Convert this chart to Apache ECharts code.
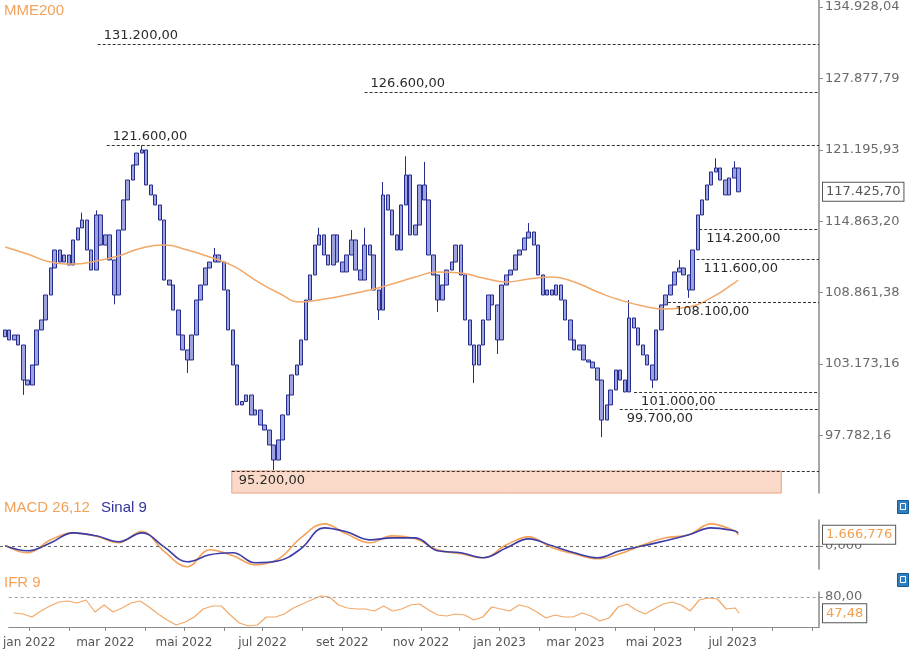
<!DOCTYPE html>
<html><head><meta charset="utf-8">
<script src="https://cdn.jsdelivr.net/npm/echarts@6/dist/echarts.min.js"></script>
<style>html,body{margin:0;padding:0;background:#fff}#c{width:911px;height:658px}</style>
</head><body><div id="c"></div>
<script>
// ---- data ----
// closes: one bar every half week (Mon / Thu) starting Mon 2021-12-20
const firstOpen = 105300;
const closes = [
105840, 105050, 105440, 104650, 101930, 101550, 103090, 105840, 106640, 108660,
110890, 112400, 111390, 111980, 111140, 113250, 114280, 114960, 112400, 110720,
115400, 112820, 113680, 111560, 108660, 114100, 116710, 118470, 119820, 120900,
121180, 118030, 117150, 116270, 114960, 109890, 109480, 107440, 105440, 104260,
103480, 105440, 108250, 109480, 110890, 111390, 111980, 111390, 109070, 105840,
103090, 100040, 100300, 100790, 99290, 99660, 98540, 98170, 97070, 95980,
97440, 99290, 100790, 102320, 103090, 105050, 108250, 110310, 112820, 113680,
111980, 111140, 113680, 111390, 110560, 111980, 113250, 110720, 109890, 112820,
111980, 109070, 107440, 117150, 115830, 113680, 112400, 116270, 118920, 113680,
114530, 118030, 116710, 111980, 110310, 108250, 109480, 110720, 111390, 112820,
110310, 106640, 104650, 103090, 104650, 106640, 108660, 107850, 105050, 109480,
110310, 110720, 111980, 112400, 113420, 113930, 112820, 110310, 108660, 109070,
108660, 109480, 108250, 106640, 105050, 104260, 104650, 103480, 103320, 102860,
101930, 98910, 100040, 101170, 102700, 101930, 101020, 106800, 106000, 104650,
103870, 103090, 101930, 105840, 107850, 108660, 109480, 110560, 110890, 110310,
109070, 112400, 115400, 116710, 118030, 119190, 119550, 118470, 117150, 118650,
119550, 117425.70
];
// visible wick extremes [bar index, price]
const wickHighs = [[17,115600],[20,115800],[30,121600],[46,112570],[69,114300],[76,114100],[79,114300],[83,118300],[88,120600],[92,120100],[115,114700],[137,108250],[148,111560],[156,120420],[160,120150]];
const wickLows = [[4,100800],[24,107900],[40,102470],[59,95260],[82,106640],[95,107280],[103,101700],[108,103950],[131,97650],[142,101320],[150,108430]];
// MME200: every 5th bar + last bar
const ma200 = [112650,112060,111390,111220,111480,111900,112570,112820,112400,111810,111060,109890,108820,108090,108330,108660,109070,109560,110140,110560,110470,110060,109730,109980,110140,109730,108910,108250,107770,107520,107680,108420,109650,109890];
// MACD 26,12 and Sinal 9: every 5th bar + last bar
const macd = [30,-1057,906,1963,1435,453,2140,-830,-3171,-604,-1510,-2870,-1963,1208,3322,1812,453,1510,1057,-604,-1208,-1812,151,1359,-302,-1208,-1963,-1208,151,1208,1661,3322,2265,1666.776];
const signal = [0,-755,453,1963,1510,604,1963,-151,-2416,-1359,-1057,-2567,-2265,-453,2718,2114,906,1208,1208,-755,-1057,-1812,-302,1057,0,-1057,-1812,-755,0,755,1661,2718,2265,1963];
// IFR 9: every 2nd bar + last bar
const rsi = [48,46,40,52,62,70,72,68,74,50,64,50,58,68,72,60,46,34,24,30,40,56,62,62,44,28,22,24,40,40,46,58,66,74,82,80,64,58,56,56,52,62,52,56,64,66,54,44,42,46,44,34,40,60,56,52,64,60,50,38,44,40,40,48,42,32,38,60,66,54,46,56,66,70,64,52,74,78,76,56,58,47.48];
const priceTicks = [97782.16, 103173.16, 108861.38, 114863.20, 121195.93, 127877.79, 134928.04];
const levelValues = [131200, 126600, 121600, 114200, 111600, 108100, 101000, 99700, 95200];
const levelStarts = ['2022-03-01','2022-09-22','2022-03-08','2023-06-06','2023-06-04','2023-05-13','2023-04-17','2023-04-06','2022-06-12'];
const levelSides = ['above','above','above','below','below','below','below','below','below'];
const zoneStart = '2022-06-12', zoneEnd = '2023-08-08';
const labelMonths = ['2022-01','2022-03','2022-05','2022-07','2022-09','2022-11','2023-01','2023-03','2023-05','2023-07'];
const monthNames = ['jan','fev','mar','abr','mai','jun','jul','ago','set','out','nov','dez'];

// ---- helpers ----
function t(s){ const p = s.split('-').map(Number); return new Date(p[0], p[1]-1, p[2]||1).getTime(); }
function barDate(i){ return new Date(2021, 11, 20 + 7*Math.floor(i/2) + 3*(i%2)).getTime(); }
function fmt(v, dec){
  const s = Math.abs(v).toFixed(dec); const parts = s.split('.');
  const ip = parts[0].replace(/\B(?=(\d{3})+(?!\d))/g, '.');
  return (v<0?'-':'') + ip + (dec ? ',' + parts[1] : '');
}
const xMin = t('2021-12-16'), xMax = t('2023-09-06');
const yMin = 93630, yMax = 135644;
const FONT = 'DejaVu Sans';
const labelSet = {};
labelMonths.forEach(s => labelSet[t(s)] = true);

const hiMap = {}, loMap = {};
wickHighs.forEach(w => hiMap[w[0]] = w[1]);
wickLows.forEach(w => loMap[w[0]] = w[1]);
const candles = closes.map((c, i) => {
  const o = i === 0 ? firstOpen : closes[i-1];
  let lo = Math.min(o, c), hi = Math.max(o, c);
  if (hiMap[i] != null) hi = Math.max(hi, hiMap[i]);
  if (loMap[i] != null) lo = Math.min(lo, loMap[i]);
  return [barDate(i), o, c, lo, hi];
});
const last = closes.length - 1;
const every = (arr, step) => arr.map((v, k) => [barDate(k < arr.length-1 ? k*step : last), v]);

const levelLines = levelValues.map((v, i) => [
  { coord: [t(levelStarts[i]), v],
    label: { show: true, formatter: fmt(v, 2),
      position: levelSides[i] === 'above' ? 'insideStartTop' : 'insideStartBottom',
      distance: levelSides[i] === 'above' ? [6, 2] : [7, 3],
      color: '#2a2a2a', fontSize: 13, fontFamily: FONT } },
  { coord: [xMax, v] }
]);

function valueBox(v, text, color){
  return { yAxis: v, lineStyle: { color: 'rgba(0,0,0,0)', width: 1, opacity: 1 },
    label: { show: true, position: 'end', distance: 4, formatter: text, color: color, opacity: 1,
      fontSize: 13, fontFamily: FONT, backgroundColor: '#fff', borderColor: '#555', borderWidth: 1,
      padding: [3, 3, 2, 3] } };
}

const axisGray = '#8a8a8a';
const chart = echarts.init(document.getElementById('c'));
chart.setOption({
  animation: false,
  backgroundColor: '#fff',
  textStyle: { fontFamily: FONT },
  grid: [
    { left: 0, right: 92, top: 0, height: 493 },
    { left: 0, right: 92, top: 520, height: 49 },
    { left: 0, right: 92, top: 592, height: 35 }
  ],
  xAxis: [0, 1, 2].map(g => ({
    type: 'time', gridIndex: g, min: xMin, max: xMax, show: g === 2, splitNumber: 22,
    splitLine: { show: false },
    axisLine: { show: true, lineStyle: { color: axisGray } },
    axisTick: { show: true, length: 4, lineStyle: { color: axisGray } },
    axisLabel: { show: true, margin: 10, color: '#555', fontSize: 12, hideOverlap: false,
      formatter: v => { if (!labelSet[v]) return ''; const d = new Date(v);
        return monthNames[d.getMonth()] + ' ' + d.getFullYear(); } }
  })),
  yAxis: [
    { type: 'log', gridIndex: 0, position: 'right', min: yMin, max: yMax,
      splitLine: { show: false },
      axisLine: { show: true, lineStyle: { color: axisGray, width: 1.5 } },
      axisTick: { show: true, customValues: priceTicks, length: 4, lineStyle: { color: axisGray } },
      axisLabel: { customValues: priceTicks, formatter: v => fmt(v, 2), color: '#6a6a6a', fontSize: 13, margin: 6, padding: [6, 0, 0, 0] } },
    { type: 'value', gridIndex: 1, position: 'right', min: -3500, max: 3900,
      splitLine: { show: false },
      axisLine: { show: true, lineStyle: { color: axisGray, width: 1.5 } },
      axisTick: { show: true, customValues: [0], length: 4, lineStyle: { color: axisGray } },
      axisLabel: { customValues: [0], formatter: v => fmt(v, 3), color: '#6a6a6a', fontSize: 13, margin: 6, padding: [4, 0, 0, 0] } },
    { type: 'value', gridIndex: 2, position: 'right', min: 20, max: 90,
      splitLine: { show: false },
      axisLine: { show: true, lineStyle: { color: axisGray, width: 1.5 } },
      axisTick: { show: true, customValues: [80], length: 4, lineStyle: { color: axisGray } },
      axisLabel: { customValues: [80], formatter: v => fmt(v, 2), color: '#6a6a6a', fontSize: 13, margin: 6 } }
  ],
  series: [
    { type: 'candlestick', name: 'preço', xAxisIndex: 0, yAxisIndex: 0, data: candles, barWidth: 4, z: 3,
      itemStyle: { color: '#9ca1e0', color0: '#9ca1e0', borderColor: '#262c8c', borderColor0: '#262c8c', borderWidth: 1 },
      markArea: { silent: true,
        data: [[ { coord: [t(zoneStart), levelValues[8]], itemStyle: { color: '#fad9c8', borderColor: '#e9a07f', borderWidth: 1 } },
                 { coord: [t(zoneEnd), yMin] } ]] },
      markLine: { silent: true, symbol: ['none', 'none'], animation: false,
        lineStyle: { color: '#333', type: [3, 2], width: 1 },
        data: levelLines.concat([ valueBox(closes[last], fmt(closes[last], 2), '#555') ]) } },
    { type: 'line', name: 'MME200', xAxisIndex: 0, yAxisIndex: 0, data: every(ma200, 5), smooth: 0.5, z: 4,
      showSymbol: false, lineStyle: { color: '#f2a868', width: 1.5 } },
    { type: 'line', name: 'MACD', xAxisIndex: 1, yAxisIndex: 1, data: every(macd, 5), smooth: 0.4,
      showSymbol: false, lineStyle: { color: '#f4a25a', width: 1.6 },
      markLine: { silent: true, symbol: ['none', 'none'],
        lineStyle: { color: '#666', type: [3, 3], width: 1 },
        data: [ { yAxis: 0, label: { show: false } }, valueBox(macd[macd.length-1], fmt(macd[macd.length-1], 3), '#f0a050') ] } },
    { type: 'line', name: 'Sinal', xAxisIndex: 1, yAxisIndex: 1, data: every(signal, 5), smooth: 0.4,
      showSymbol: false, lineStyle: { color: '#3c3ca8', width: 1.6 } },
    { type: 'line', name: 'IFR', xAxisIndex: 2, yAxisIndex: 2, data: every(rsi, 2),
      showSymbol: false, lineStyle: { color: '#f2a868', width: 1.2 },
      markLine: { silent: true, symbol: ['none', 'none'],
        lineStyle: { color: '#9aa3ad', type: [3, 3], width: 1 },
        data: [ { yAxis: 80, label: { show: false } }, valueBox(rsi[rsi.length-1], fmt(rsi[rsi.length-1], 2), '#f0a050') ] } }
  ],
  graphic: [
    { type: 'text', left: 4, top: 3, style: { text: 'MME200', fill: '#f2a25a', font: '15px "Liberation Sans"' } },
    { type: 'text', left: 4, top: 500, style: { text: 'MACD 26,12', fill: '#f2a25a', font: '15px "Liberation Sans"' } },
    { type: 'text', left: 101, top: 500, style: { text: 'Sinal 9', fill: '#34349e', font: '15px "Liberation Sans"' } },
    { type: 'text', left: 4, top: 575, style: { text: 'IFR 9', fill: '#f2a25a', font: '15px "Liberation Sans"' } },
    { type: 'group', left: 897, top: 500, children: [
      { type: 'rect', shape: { x: 0, y: 0, width: 11, height: 13 }, style: { fill: '#2e7fc0', stroke: '#145a94' } },
      { type: 'rect', shape: { x: 3, y: 3, width: 5, height: 6 }, style: { fill: 'none', stroke: '#fff', lineWidth: 1 } } ] },
    { type: 'group', left: 897, top: 573, children: [
      { type: 'rect', shape: { x: 0, y: 0, width: 11, height: 13 }, style: { fill: '#2e7fc0', stroke: '#145a94' } },
      { type: 'rect', shape: { x: 3, y: 3, width: 5, height: 6 }, style: { fill: 'none', stroke: '#fff', lineWidth: 1 } } ] }
  ]
});
</script></body></html>
